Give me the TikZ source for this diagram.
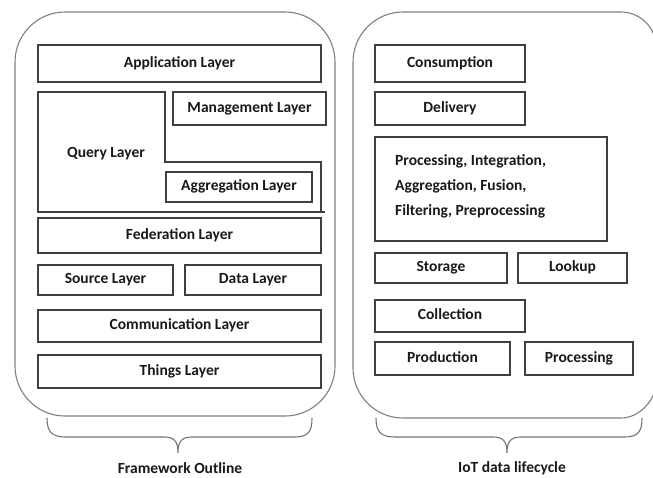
\documentclass[tikz,border=0pt]{standalone}
\usepackage{fontspec}
\setmainfont{Carlito}
\newcommand\lblfont{\bfseries\fontsize{15.5}{18}\selectfont}
\newcommand\lbox[6]{\node[layerbox, minimum width={#4-#2}, minimum height={#5-#3}] (#1) at ({(#2+#4)/2},{(#3+#5)/2}) {#6};}
\begin{document}
\begin{tikzpicture}[x=1pt,y=-1pt,
  layerbox/.style={draw=black!75, line width=1.2pt, inner sep=0pt, font=\lblfont, text=black!90, text height=11pt, text depth=3.5pt},
  layerline/.style={draw=black!75, line width=1.2pt},
  txt/.style={inner sep=0pt, font=\lblfont, text=black!90},
  outline/.style={draw=black!50, line width=1.1pt},
  bracepath/.style={draw=black!55, line width=1.1pt}]
\clip (0,0) rectangle (653,477);
\fill[white] (0,0) rectangle (653,477);
% outer shapes
\draw[outline, rounded corners=50pt] (15,12) rectangle (335,416);
\draw[outline] (353,62) -- (353,368) .. controls (353,395.6) and (375.4,418) .. (403,418)
  -- (621,418) .. controls (640.3,418) and (656,398.7) .. (656,383)
  -- (656,47) .. controls (656,27.7) and (640.3,12) .. (621,12)
  -- (403,12) .. controls (375.4,12) and (353,34.4) .. (353,62) -- cycle;
% left column
\lbox{app}{38}{45}{321}{82}{Application Layer}
\draw[layerline] (321,212) -- (321,162) -- (165,162) -- (165,92) -- (38,92) -- (38,212) -- (325,212);
\node[txt] (query) at (106,154) {Query Layer};
\lbox{mgmt}{173}{92}{326}{125}{Management Layer}
\lbox{aggr}{166}{172}{312}{202}{Aggregation Layer}
\lbox{fed}{38}{218}{321}{253}{Federation Layer}
\lbox{src}{38}{265}{173}{295}{Source Layer}
\lbox{data}{185}{265}{321}{295}{Data Layer}
\lbox{comm}{38}{310}{321}{342}{Communication Layer}
\lbox{things}{38}{355}{321}{388}{Things Layer}
% right column
\lbox{cons}{375}{45}{525}{82}{Consumption}
\lbox{deliv}{375}{92}{525}{125}{Delivery}
\lbox{proc}{375}{137}{607}{241}{}
\node[txt, anchor=mid west] (p1) at (395,163) {Processing, Integration,};
\node[txt, anchor=mid west] (p2) at (395,188) {Aggregation, Fusion,};
\node[txt, anchor=mid west] (p3) at (395,213) {Filtering, Preprocessing};
\lbox{stor}{375}{253}{507}{283}{Storage}
\lbox{look}{518}{253}{627}{283}{Lookup}
\lbox{coll}{375}{300}{525}{332}{Collection}
\lbox{prod}{375}{342}{510}{375}{Production}
\lbox{procb}{525}{342}{633}{375}{Processing}
% braces
\draw[bracepath] (47,418) .. controls (47,432) and (52,437) .. (66,437) -- (164,437)
  .. controls (174,437) and (178,441) .. (178,453)
  .. controls (178,441) and (182,437) .. (192,437) -- (294,437)
  .. controls (308,437) and (312,432) .. (312,418);
\draw[bracepath] (376,418) .. controls (376,432) and (381,437) .. (395,437) -- (493,437)
  .. controls (503,437) and (507,441) .. (507,453)
  .. controls (507,441) and (511,437) .. (521,437) -- (624,437)
  .. controls (638,437) and (642,432) .. (642,418);
\node[txt] (fw) at (180,468) {Framework Outline};
\node[txt] (iot) at (512,468) {IoT data lifecycle};
\end{tikzpicture}
\end{document}
